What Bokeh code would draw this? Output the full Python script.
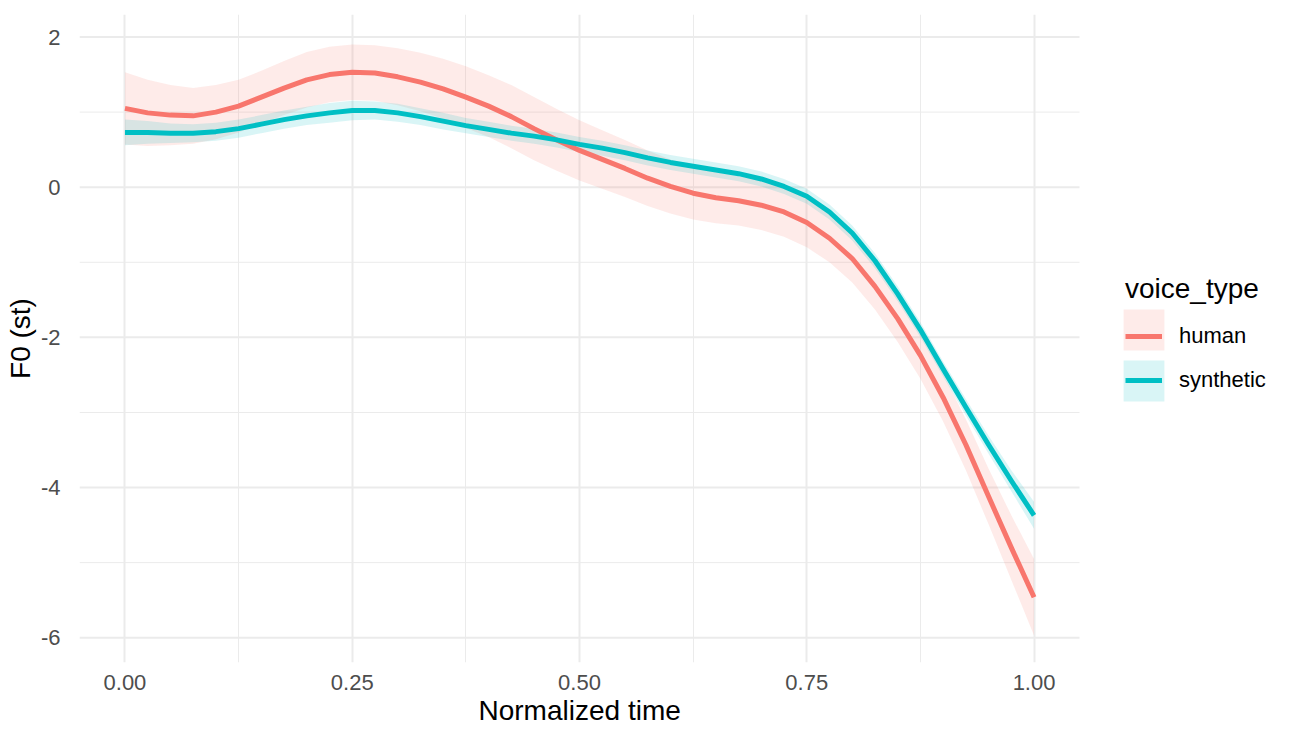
from bokeh.plotting import figure
from bokeh.models import Range1d, FixedTicker, Legend, LegendItem, Title
from bokeh.embed import file_html
from bokeh.resources import INLINE

# ---- data ----
t = [0.0, 0.025, 0.05, 0.075, 0.1, 0.125, 0.15, 0.175, 0.2, 0.225,
     0.25, 0.275, 0.3, 0.325, 0.35, 0.375, 0.4, 0.425, 0.45, 0.475,
     0.5, 0.525, 0.55, 0.575, 0.6, 0.625, 0.65, 0.675, 0.7, 0.725,
     0.75, 0.775, 0.8, 0.825, 0.85, 0.875, 0.9, 0.925, 0.95, 0.975, 1.0]

human_fit = [1.05, 0.99, 0.96, 0.95, 1.00, 1.08, 1.20, 1.32, 1.43, 1.50,
             1.53, 1.52, 1.47, 1.40, 1.31, 1.20, 1.08, 0.94, 0.78, 0.63,
             0.49, 0.37, 0.25, 0.12, 0.01, -0.08, -0.14, -0.18, -0.24, -0.33,
             -0.47, -0.68, -0.95, -1.32, -1.75, -2.24, -2.80, -3.43, -4.12, -4.80, -5.46]
human_se = [0.48, 0.44, 0.40, 0.37, 0.36, 0.35, 0.35, 0.36, 0.37, 0.37,
            0.37, 0.37, 0.38, 0.39, 0.40, 0.41, 0.41, 0.42, 0.42, 0.41,
            0.40, 0.39, 0.38, 0.37, 0.36, 0.35, 0.34, 0.33, 0.33, 0.33,
            0.33, 0.32, 0.32, 0.31, 0.31, 0.31, 0.32, 0.34, 0.37, 0.43, 0.51]

synthetic_fit = [0.73, 0.73, 0.72, 0.72, 0.74, 0.78, 0.84, 0.90, 0.95, 0.99,
                 1.02, 1.02, 0.99, 0.94, 0.88, 0.82, 0.77, 0.72, 0.68, 0.63,
                 0.57, 0.52, 0.46, 0.39, 0.33, 0.28, 0.23, 0.18, 0.11, 0.01,
                 -0.12, -0.33, -0.61, -0.98, -1.42, -1.90, -2.42, -2.93, -3.43, -3.91, -4.37]
synthetic_se = [0.17, 0.15, 0.13, 0.12, 0.12, 0.12, 0.12, 0.12, 0.12, 0.13,
                0.13, 0.12, 0.12, 0.11, 0.11, 0.10, 0.10, 0.10, 0.10, 0.10,
                0.10, 0.10, 0.10, 0.10, 0.10, 0.10, 0.10, 0.10, 0.10, 0.10,
                0.10, 0.10, 0.10, 0.10, 0.10, 0.10, 0.10, 0.11, 0.12, 0.14, 0.18]

series = ["human", "synthetic"]
colors = ["#F8766D", "#00BFC4"]

x_ticks = [0.0, 0.25, 0.5, 0.75, 1.0]
x_tick_labels = ["0.00", "0.25", "0.50", "0.75", "1.00"]
x_minor = [0.125, 0.375, 0.625, 0.875]
y_ticks = [-6, -4, -2, 0, 2]
y_tick_labels = ["-6", "-4", "-2", "0", "2"]
y_minor = [-5, -3, -1, 1]

FONT = "Liberation Sans"
GRID = "#EBEBEB"

# panel (data area) limits, as in ggplot's default 5% expansion
X_LO, X_HI = -0.05, 1.05
Y_LO, Y_HI = -6.33, 2.30

W, H = 1282, 726
LEFT, TOP, BOTTOM = 79, 14, 64
PANEL_W = 1000                      # pixel width of the data panel
frame_w = W - LEFT                  # frame runs to the right edge (room for legend)
x_end = X_LO + (X_HI - X_LO) * frame_w / PANEL_W

p = figure(width=W, height=H, output_backend="svg", toolbar_location=None,
           x_range=Range1d(X_LO, x_end), y_range=Range1d(Y_LO, Y_HI),
           min_border_left=LEFT, min_border_right=0, min_border_top=TOP,
           min_border_bottom=BOTTOM)
p.outline_line_color = None
p.background_fill_color = "white"
p.border_fill_color = "white"

xt = FixedTicker(ticks=x_ticks, minor_ticks=x_minor)
yt = FixedTicker(ticks=y_ticks, minor_ticks=y_minor)
p.xaxis.ticker = xt
p.yaxis.ticker = yt
p.xgrid.ticker = xt
p.xgrid.grid_line_color = GRID
p.xgrid.grid_line_width = 2
p.xgrid.minor_grid_line_color = GRID
p.xgrid.minor_grid_line_width = 1
p.ygrid.grid_line_color = None

# horizontal grid lines limited to the panel width
n_maj = len(y_ticks)
n_min = len(y_minor)
p.segment(x0=[X_LO] * n_min, x1=[X_HI] * n_min, y0=y_minor, y1=y_minor,
          line_color=GRID, line_width=1)
p.segment(x0=[X_LO] * n_maj, x1=[X_HI] * n_maj, y0=y_ticks, y1=y_ticks,
          line_color=GRID, line_width=2)

p.xaxis.major_label_overrides = {v: s for v, s in zip(x_ticks, x_tick_labels)}
p.yaxis.major_label_overrides = {v: s for v, s in zip(y_ticks, y_tick_labels)}
for ax in (p.xaxis, p.yaxis):
    ax.axis_line_color = None
    ax.major_tick_line_color = None
    ax.minor_tick_line_color = None
    ax.major_label_text_font = FONT
    ax.major_label_text_font_size = "22px"
    ax.major_label_text_color = "#4D4D4D"
    ax.axis_label_text_font = FONT
    ax.axis_label_text_font_size = "28px"
    ax.axis_label_text_font_style = "normal"
    ax.axis_label_text_color = "black"
p.yaxis.axis_label = "F0 (st)"
p.xaxis.major_label_standoff = 6
p.yaxis.major_label_standoff = 13
p.yaxis.axis_label_standoff = 2

xtitle = Title(text="Normalized time", align="left", offset=399,
               text_font=FONT, text_font_size="28px", text_font_style="normal",
               text_color="black", standoff=0)
p.add_layout(xtitle, "below")

fits = [human_fit, synthetic_fit]
ses = [human_se, synthetic_se]
areas, lines = [], []
for fit, se, col in zip(fits, ses, colors):
    lo = [f - s for f, s in zip(fit, se)]
    hi = [f + s for f, s in zip(fit, se)]
    areas.append(p.varea(x=t, y1=lo, y2=hi, fill_color=col, fill_alpha=0.15))
for fit, col in zip(fits, colors):
    lines.append(p.line(x=t, y=fit, line_color=col, line_width=5,
                        line_join="round", line_cap="butt"))

leg_boxes = Legend(items=[LegendItem(label=" ", renderers=[a]) for a in areas],
                   location=(1039, 256), glyph_width=51, glyph_height=51,
                   spacing=-6, padding=0, margin=0, label_text_font_size="1px",
                   border_line_color=None, background_fill_alpha=0)
leg_lines = Legend(items=[LegendItem(label=s, renderers=[l]) for s, l in zip(series, lines)],
                   location=(1046, 260), title="voice_type",
                   glyph_width=37, glyph_height=44, spacing=0, padding=0, margin=0,
                   label_standoff=17, label_text_font=FONT, label_text_font_size="22px",
                   label_text_color="black",
                   title_text_font=FONT, title_text_font_size="28px",
                   title_text_font_style="normal", title_text_color="black",
                   title_standoff=9,
                   border_line_color=None, background_fill_alpha=0)
p.add_layout(leg_boxes)
p.add_layout(leg_lines)

open("out.html", "w").write(file_html(p, INLINE))
